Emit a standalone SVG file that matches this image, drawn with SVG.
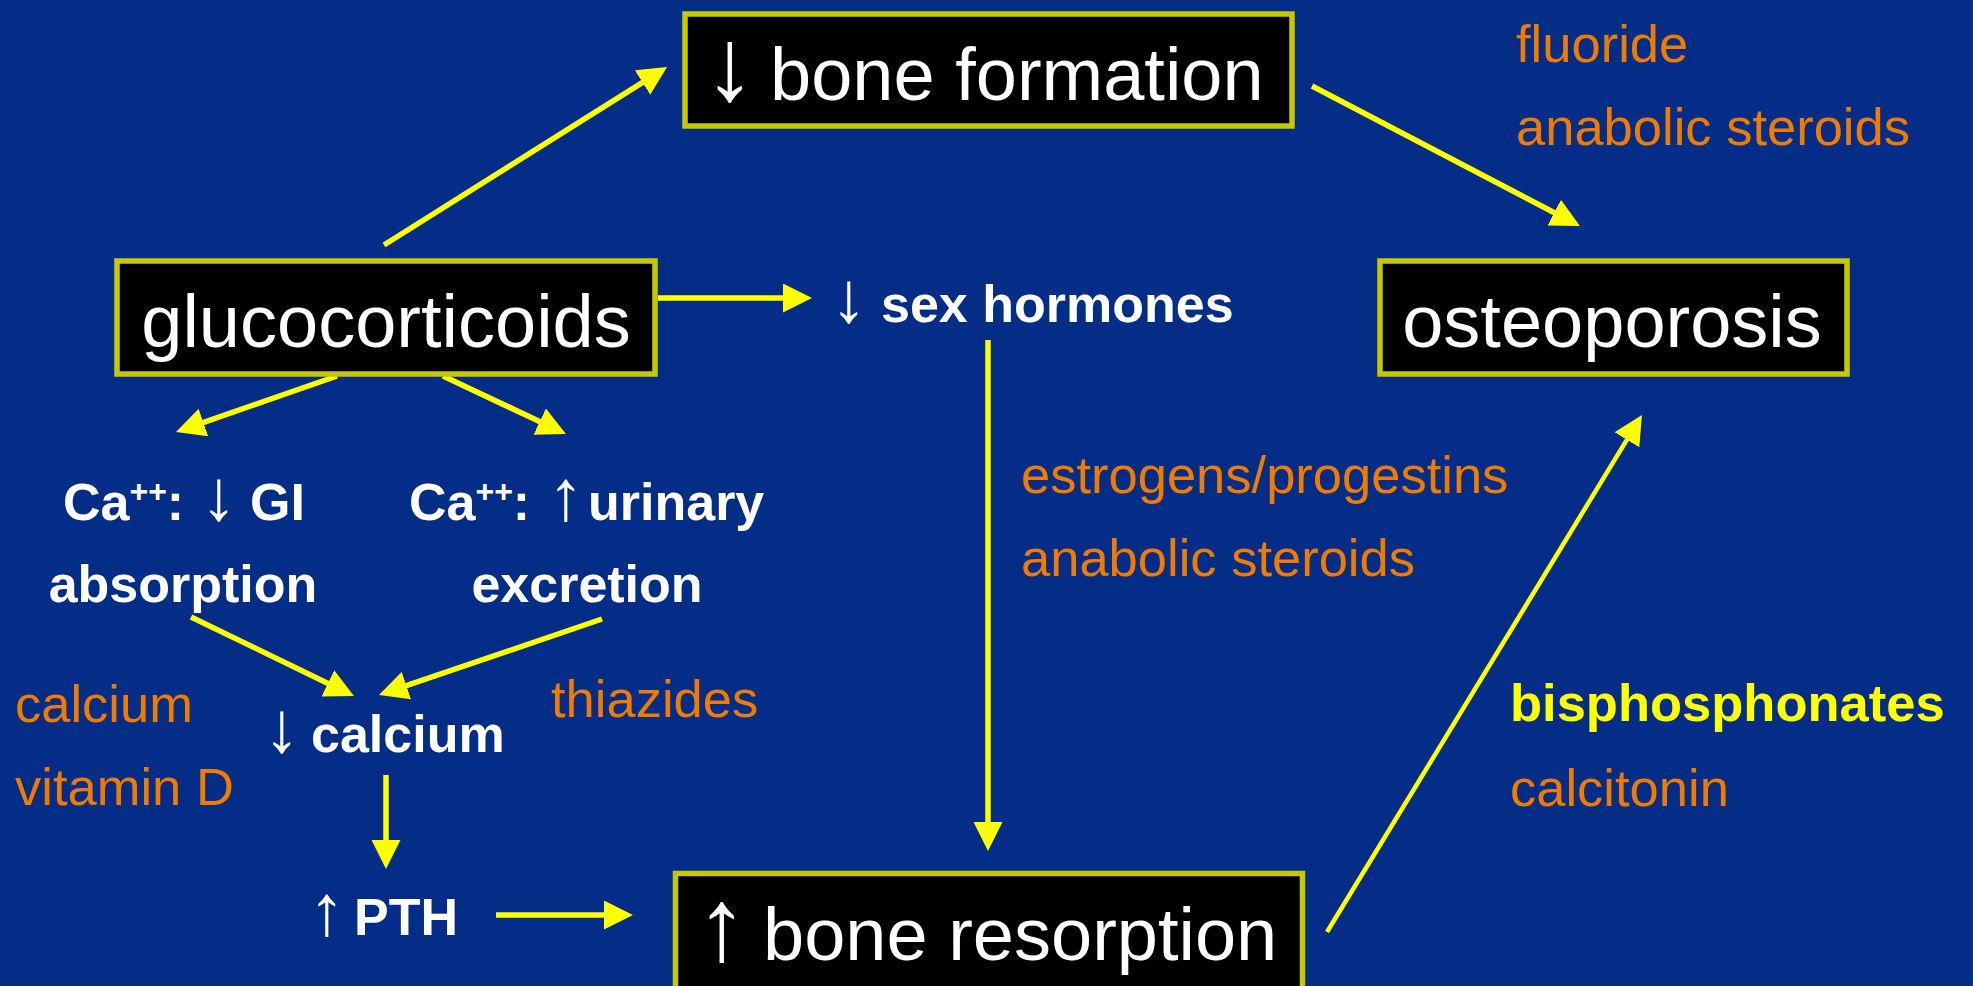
<svg xmlns="http://www.w3.org/2000/svg" width="1973" height="986" viewBox="0 0 1973 986">
<defs>
<style>
.box{fill:#000000;stroke:#C8C800;stroke-width:5.5}
.big{font-family:"Liberation Sans",Arial,sans-serif;font-size:74px;fill:#FFFFFF}
.wb{font-family:"Liberation Sans",Arial,sans-serif;font-size:52px;font-weight:bold;fill:#FFFFFF}
.or{font-family:"Liberation Sans",Arial,sans-serif;font-size:52.5px;fill:#EF7B00}
.yb{font-family:"Liberation Sans",Arial,sans-serif;font-size:52.5px;font-weight:bold;fill:#FFFF00}
.ar{font-weight:normal;font-size:72px}
.arb{font-size:103px}
.sup{font-size:32px}
.conn{stroke:#FFFF00;stroke-width:5.5;fill:none;marker-end:url(#ah)}
</style>
<marker id="ah" markerUnits="userSpaceOnUse" viewBox="0 0 29 29" markerWidth="29" markerHeight="29" refX="11" refY="14.5" orient="auto">
<path d="M0,0 L29,14.5 L0,29 z" fill="#FFFF00"/>
</marker>
</defs>
<rect x="0" y="0" width="1973" height="986" fill="#032D87"/>

<g id="connectors">
<line class="conn" x1="384" y1="245" x2="651.8" y2="76.6"/>
<line class="conn" x1="658" y1="298" x2="794" y2="298"/>
<line class="conn" x1="337" y1="376" x2="193" y2="426.1"/>
<line class="conn" x1="443" y1="376" x2="549.7" y2="426.3"/>
<line class="conn" x1="1312" y1="86" x2="1564" y2="217.7"/>
<line class="conn" x1="988" y1="340" x2="988" y2="833"/>
<line class="conn" x1="191" y1="617" x2="337.8" y2="688.2"/>
<line class="conn" x1="602" y1="619" x2="396" y2="689.2"/>
<line class="conn" x1="386" y1="775" x2="386" y2="851"/>
<line class="conn" x1="496" y1="915" x2="615" y2="915"/>
<line class="conn" style="stroke-width:4.5" x1="1327" y1="932" x2="1632.6" y2="430.4"/>
</g>

<g id="bone-formation">
<rect class="box" x="685" y="14" width="607" height="112"/>
<text class="big" x="704" y="100"><tspan class="arb">↓</tspan><tspan x="770">bone formation</tspan></text>
</g>

<g id="glucocorticoids">
<rect class="box" x="117" y="261" width="538" height="113"/>
<text class="big" x="386" y="347" text-anchor="middle">glucocorticoids</text>
</g>

<g id="osteoporosis">
<rect class="box" x="1380" y="261" width="467" height="113"/>
<text class="big" x="1612" y="347" text-anchor="middle">osteoporosis</text>
</g>

<g id="bone-resorption">
<rect class="box" x="675.5" y="873.5" width="627" height="130"/>
<text class="big" x="696" y="960"><tspan class="arb">↑</tspan><tspan x="763">bone resorption</tspan></text>
</g>

<g id="sex-hormones">
<text class="wb" x="831" y="322"><tspan class="ar">↓</tspan><tspan x="881">sex hormones</tspan></text>
</g>

<g id="ca-gi">
<text class="wb" x="63" y="520">Ca<tspan class="sup" dy="-18">++</tspan><tspan dy="18">:</tspan><tspan class="ar" x="201">↓</tspan><tspan x="250">GI</tspan></text>
<text class="wb" x="183" y="602" text-anchor="middle">absorption</text>
</g>

<g id="ca-urinary">
<text class="wb" x="409" y="520">Ca<tspan class="sup" dy="-18">++</tspan><tspan dy="18">:</tspan><tspan class="ar" x="548">↑</tspan><tspan x="588">urinary</tspan></text>
<text class="wb" x="587" y="602" text-anchor="middle">excretion</text>
</g>

<g id="low-calcium">
<text class="wb" x="264" y="752"><tspan class="ar">↓</tspan><tspan x="311">calcium</tspan></text>
</g>

<g id="pth">
<text class="wb" x="309" y="935"><tspan class="ar">↑</tspan><tspan x="354">PTH</tspan></text>
</g>

<g id="drugs">
<text class="or" x="1516" y="62">fluoride</text>
<text class="or" x="1516" y="145">anabolic steroids</text>
<text class="or" x="1021" y="493">estrogens/progestins</text>
<text class="or" x="1021" y="576">anabolic steroids</text>
<text class="or" x="15" y="722">calcium</text>
<text class="or" x="15" y="805">vitamin D</text>
<text class="or" x="551" y="717">thiazides</text>
<text class="yb" x="1510" y="721">bisphosphonates</text>
<text class="or" x="1510" y="806">calcitonin</text>
</g>
</svg>
